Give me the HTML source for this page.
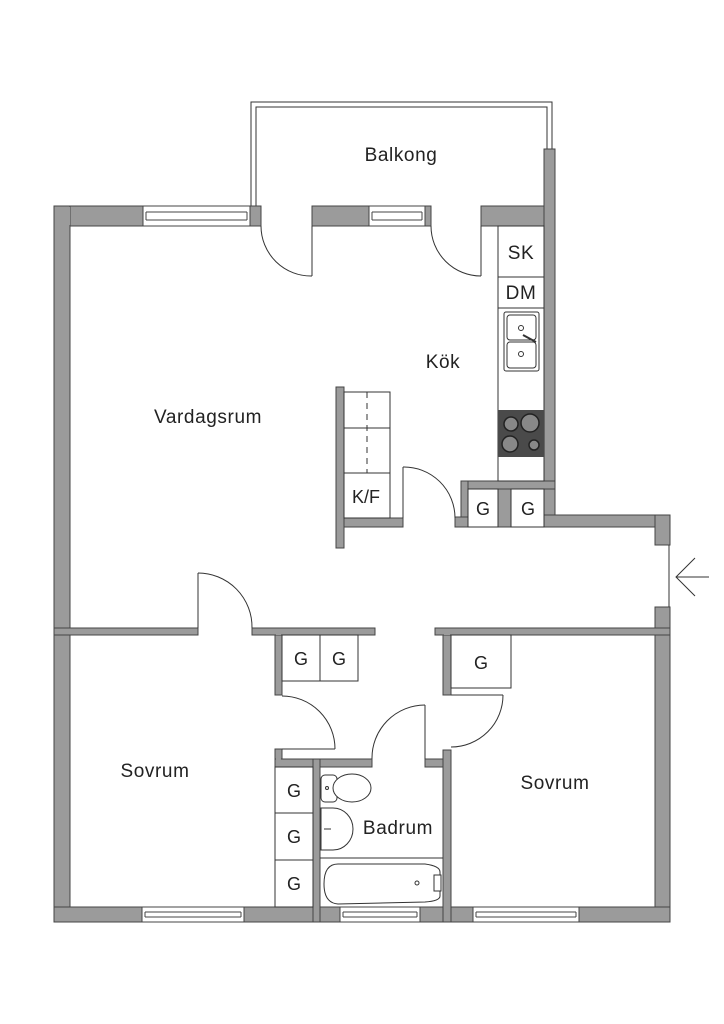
<!DOCTYPE html>
<html><head><meta charset="utf-8"><style>
html,body{margin:0;padding:0;background:#fff;}
svg{display:block}
text{font-family:"Liberation Sans",sans-serif;fill:#222;}
.lbl{font-size:19px;letter-spacing:0.6px}
</style></head><body>
<svg width="724" height="1024" viewBox="0 0 724 1024" xmlns="http://www.w3.org/2000/svg">
<polyline points="251,206 251,102 552,102 552,149" fill="none" stroke="#333" stroke-width="1"/>
<polyline points="256,206 256,107 547,107 547,149" fill="none" stroke="#333" stroke-width="1"/>
<text class="lbl" x="401" y="161" text-anchor="middle">Balkong</text>

<g fill="#9b9b9b" stroke="#444" stroke-width="1">
<rect x="54" y="206" width="89" height="20"/>
<rect x="250" y="206" width="11" height="20"/>
<rect x="312" y="206" width="57" height="20"/>
<rect x="425" y="206" width="6" height="20"/>
<rect x="481" y="206" width="74" height="20"/>
<rect x="544" y="149" width="11" height="378"/>
<rect x="544" y="515" width="126" height="12"/>
<rect x="655" y="515" width="15" height="30"/>
<rect x="655" y="607" width="15" height="315"/>
<rect x="54" y="206" width="16" height="716"/>
<rect x="54" y="907" width="616" height="15"/>
<rect x="54" y="628" width="144" height="7"/>
<rect x="252" y="628" width="123" height="7"/>
<rect x="435" y="628" width="235" height="7"/>
<rect x="275" y="635" width="7" height="60"/>
<rect x="275" y="749" width="7" height="18"/>
<rect x="275" y="759" width="97" height="8"/>
<rect x="425" y="759" width="26" height="8"/>
<rect x="443" y="750" width="8" height="172"/>
<rect x="313" y="759" width="7" height="163"/>
<rect x="443" y="635" width="8" height="60"/>
<rect x="461" y="481" width="94" height="8"/>
<rect x="461" y="481" width="7" height="46"/>
<rect x="455" y="517" width="13" height="10"/>
<rect x="498" y="489" width="13" height="38"/>
<rect x="336" y="387" width="8" height="161"/>
<rect x="344" y="518" width="59" height="9"/>
</g>
<g fill="#9b9b9b">
<rect x="55" y="207" width="15" height="18"/>
<rect x="545" y="207" width="9" height="18"/>
<rect x="545" y="516" width="9" height="10"/>
<rect x="656" y="516" width="13" height="10"/>
<rect x="55" y="908" width="14" height="13"/>
<rect x="656" y="908" width="13" height="13"/>
<rect x="55" y="629" width="14" height="5"/>
<rect x="656" y="629" width="13" height="5"/>
<rect x="314" y="908" width="5" height="5"/>
<rect x="444" y="908" width="6" height="5"/>
<rect x="276" y="750" width="5" height="16"/>
<rect x="444" y="751" width="6" height="15"/>
<rect x="314" y="760" width="5" height="6"/>
<rect x="462" y="482" width="5" height="6"/>
<rect x="499" y="482" width="11" height="6"/>
<rect x="545" y="482" width="9" height="6"/>
<rect x="456" y="518" width="11" height="8"/>
<rect x="337" y="519" width="6" height="7"/>
<rect x="276" y="629" width="5" height="6"/>
<rect x="444" y="629" width="6" height="6"/>
</g>

<g fill="#fff" stroke="#444" stroke-width="1">
<rect x="143" y="206" width="107" height="20"/>
<rect x="369" y="206" width="56" height="20"/>
<rect x="142" y="907" width="102" height="15"/>
<rect x="340" y="907" width="80" height="15"/>
<rect x="473" y="907" width="106" height="15"/>
</g>
<g stroke="#444" stroke-width="1" fill="none">
<path d="M146 212H247M146 220H247M146 212V220M247 212V220"/>
<path d="M372 212H422M372 220H422M372 212V220M422 212V220"/>
<path d="M145 912H241M145 917H241M145 912V917M241 912V917"/>
<path d="M343 912H417M343 917H417M343 912V917M417 912V917"/>
<path d="M476 912H576M476 917H576M476 912V917M576 912V917"/>
</g>

<g stroke="#333" stroke-width="1" fill="none">
<path d="M312 226V276"/><path d="M261 226A50 50 0 0 0 312 276"/>
<path d="M481 226V276"/><path d="M431 226A50 50 0 0 0 481 276"/>
<path d="M403 518V467"/><path d="M403 467A51 51 0 0 1 455 518"/>
<path d="M198 628V573"/><path d="M198 573A54 54 0 0 1 252 628"/>
<path d="M282 749H335"/><path d="M282 696A53 53 0 0 1 335 749"/>
<path d="M425 759V705"/><path d="M372 759A53 53 0 0 1 425 705"/>
<path d="M451 695H503"/><path d="M503 695A52 52 0 0 1 451 747"/>
<path d="M669 545V607"/>
<path d="M676 577H709M695 558L676 577L695 596"/>
</g>

<g stroke="#333" stroke-width="1" fill="#fff">
<rect x="498" y="226" width="46" height="51"/>
<rect x="498" y="277" width="46" height="31"/>
<rect x="498" y="308" width="46" height="173"/>
<rect x="504" y="312" width="35" height="59" rx="2"/>
<rect x="507" y="315" width="29" height="25" rx="3"/>
<rect x="507" y="342" width="29" height="26" rx="3"/>
<circle cx="521" cy="328" r="2.5"/><circle cx="521" cy="354" r="2.5"/>
<path d="M523 335L536 342" stroke-width="2"/>
</g>
<rect x="498" y="410" width="46" height="47" fill="#4a4a4a"/>
<g stroke="#222" stroke-width="1.5" fill="#888">
<circle cx="511" cy="424" r="7"/><circle cx="530" cy="423" r="9"/>
<circle cx="510" cy="444" r="8"/><circle cx="534" cy="445" r="5"/>
</g>
<text class="lbl" x="521" y="259" text-anchor="middle">SK</text>
<text class="lbl" x="521" y="299" text-anchor="middle">DM</text>
<text class="lbl" x="443" y="368" text-anchor="middle">Kök</text>
<text class="lbl" x="208" y="423" text-anchor="middle">Vardagsrum</text>

<g stroke="#333" stroke-width="1" fill="#fff">
<rect x="468" y="489" width="30" height="38"/>
<rect x="511" y="489" width="33" height="38"/>
<rect x="282" y="635" width="38" height="46"/>
<rect x="320" y="635" width="38" height="46"/>
<rect x="451" y="635" width="60" height="53"/>
<rect x="275" y="767" width="38" height="46"/>
<rect x="275" y="813" width="38" height="47"/>
<rect x="275" y="860" width="38" height="47"/>
<rect x="344" y="392" width="46" height="126"/>
<path d="M344 428H390M344 473H390"/>
</g>
<path d="M367 392V473" stroke="#333" stroke-dasharray="6,5"/>
<g font-size="18" text-anchor="middle">
<text x="483" y="515">G</text><text x="528" y="515">G</text>
<text x="301" y="665">G</text><text x="339" y="665">G</text>
<text x="481" y="669">G</text>
<text x="294" y="797">G</text><text x="294" y="843">G</text><text x="294" y="890">G</text>
<text x="366" y="503">K/F</text>
</g>

<g stroke="#333" stroke-width="1" fill="#fff">
<rect x="321" y="775" width="16" height="27" rx="4"/>
<ellipse cx="352" cy="788" rx="19" ry="14"/>
<circle cx="327" cy="788" r="1.5"/>
<path d="M321 808H333A20 21 0 0 1 333 850H321Z"/>
<path d="M324 829H331"/>
<path d="M320 858H443"/>
<path d="M338 864H425Q440 866 440 872V896Q440 901 425 902L338 904Q324 903 324 884Q324 864 338 864Z"/>
<circle cx="417" cy="883" r="2"/>
<rect x="434" y="875" width="7" height="16"/>
</g>
<text class="lbl" x="398" y="834" text-anchor="middle">Badrum</text>
<text class="lbl" x="155" y="777" text-anchor="middle">Sovrum</text>
<text class="lbl" x="555" y="789" text-anchor="middle">Sovrum</text>
</svg>
</body></html>
